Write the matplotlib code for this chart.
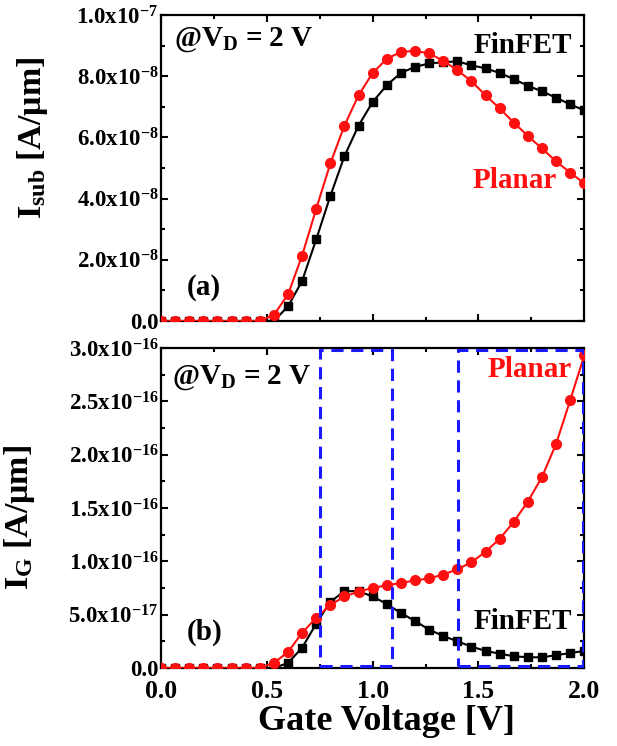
import numpy as np
import matplotlib
matplotlib.use("Agg")
import matplotlib.pyplot as plt
from matplotlib.ticker import MultipleLocator, FuncFormatter
from matplotlib.patches import Rectangle

plt.rcParams['font.family'] = ['Liberation Serif', 'DejaVu Serif']
plt.rcParams['font.weight'] = 'bold'
plt.rcParams['mathtext.fontset'] = 'custom'
plt.rcParams['mathtext.rm'] = 'Liberation Serif:bold'
plt.rcParams['mathtext.bf'] = 'Liberation Serif:bold'
plt.rcParams['mathtext.it'] = 'Liberation Serif:bold:italic'
plt.rcParams['mathtext.default'] = 'bf'

# Gate voltage sweep
vg = np.linspace(0.0, 2.0, 31)

# (a) substrate current [A/um]
isub_planar = np.array([0, 0, 0, 0, 0, 0, 0, 0, 0.02, 0.087, 0.214, 0.367, 0.515, 0.639,
                        0.738, 0.811, 0.857, 0.880, 0.883, 0.875, 0.851, 0.820, 0.784,
                        0.738, 0.695, 0.649, 0.605, 0.564, 0.522, 0.485, 0.450]) * 1e-7
isub_finfet = np.array([0, 0, 0, 0, 0, 0, 0, 0, 0.0, 0.048, 0.131, 0.267, 0.409, 0.539,
                        0.639, 0.716, 0.771, 0.811, 0.831, 0.842, 0.846, 0.849, 0.836,
                        0.826, 0.811, 0.791, 0.769, 0.751, 0.730, 0.708, 0.689]) * 1e-7

# (b) gate current [A/um]
ig_planar = np.array([0, 0, 0, 0, 0, 0, 0, 0, 0.047, 0.15, 0.33, 0.47, 0.59, 0.67,
                      0.716, 0.75, 0.775, 0.797, 0.82, 0.84, 0.875, 0.925, 0.99,
                      1.09, 1.21, 1.37, 1.56, 1.79, 2.10, 2.51, 2.93]) * 1e-16
ig_finfet = np.array([0, 0, 0, 0, 0, 0, 0, 0, 0.0, 0.047, 0.19, 0.415, 0.62, 0.72,
                      0.72, 0.67, 0.60, 0.515, 0.44, 0.36, 0.30, 0.25, 0.20,
                      0.16, 0.134, 0.11, 0.10, 0.10, 0.12, 0.14, 0.16]) * 1e-16

# highlighted regions in (b): (x0, x1)
regions = [(0.75, 1.09), (1.405, 1.995)]

RED = '#ff1010'
BLUE = '#1a1aff'

fig = plt.figure(figsize=(6.17, 7.46), dpi=100)
ax1 = fig.add_axes([0.261, 0.5697, 0.686, 0.410])
ax2 = fig.add_axes([0.261, 0.1046, 0.686, 0.429])


def sci_fmt(v, pos):
    if abs(v) < 1e-30:
        return '0.0'
    e = int(np.floor(np.log10(abs(v)) + 1e-9))
    m = v / 10 ** e
    return r'%.1fx10$^{%d}$' % (m, e)


for ax in (ax1, ax2):
    ax.set_xlim(0, 2.0)
    ax.xaxis.set_major_locator(MultipleLocator(0.5))
    ax.xaxis.set_minor_locator(MultipleLocator(0.25))
    ax.tick_params(which='both', direction='in', top=True, right=True, width=1.5)
    ax.tick_params(which='major', length=5)
    ax.tick_params(axis='y', which='major', labelsize=16.5, pad=2)
    ax.tick_params(axis='x', which='major', labelsize=18.5, pad=9)
    ax.tick_params(which='minor', length=3)
    for s in ax.spines.values():
        s.set_linewidth(1.6)
    ax.yaxis.set_major_formatter(FuncFormatter(sci_fmt))

# panel (a)
ax1.plot(vg, isub_finfet, '-s', color='black', lw=1.5, ms=6, zorder=3)
ax1.plot(vg, isub_planar, '-o', color=RED, lw=1.5, ms=7, zorder=4)
ax1.set_ylim(0, 1.0e-7)
ax1.yaxis.set_major_locator(MultipleLocator(2e-8))
ax1.yaxis.set_minor_locator(MultipleLocator(1e-8))
ax1.tick_params(axis='x', labelbottom=False)
ax1.set_ylabel('I$_{sub}$ [A/μm]', fontsize=24.5, fontweight='bold')
ax1.yaxis.set_label_coords(-0.262, 0.6)
ax1.text(0.06, 0.92e-7, '@V$_{D}$ = 2 V', fontsize=21, fontweight='bold', va='center')
ax1.text(1.71, 0.90e-7, 'FinFET', fontsize=21, fontweight='bold', ha='center', va='center')
ax1.text(1.67, 0.46e-7, 'Planar', fontsize=21, fontweight='bold', ha='center', va='center', color=RED)
ax1.text(0.12, 0.11e-7, '(a)', fontsize=21, fontweight='bold', va='center')

# panel (b)
ax2.plot(vg, ig_finfet, '-s', color='black', lw=1.5, ms=6, zorder=3)
ax2.plot(vg, ig_planar, '-o', color=RED, lw=1.5, ms=7, zorder=4)
ax2.set_ylim(0, 3.0e-16)
ax2.yaxis.set_major_locator(MultipleLocator(5e-17))
ax2.yaxis.set_minor_locator(MultipleLocator(2.5e-17))
ax2.set_ylabel('I$_{G}$ [A/μm]', fontsize=24.5, fontweight='bold')
ax2.yaxis.set_label_coords(-0.292, 0.47)
ax2.set_xlabel('Gate Voltage [V]', fontsize=26, fontweight='bold', labelpad=0)
ax2.xaxis.set_label_coords(0.533, -0.115)
ax2.text(0.05, 2.72e-16, '@V$_{D}$ = 2 V', fontsize=21, fontweight='bold', va='center')
ax2.text(1.74, 2.8e-16, 'Planar', fontsize=21, fontweight='bold', ha='center', va='center', color=RED)
ax2.text(1.71, 0.44e-16, 'FinFET', fontsize=21, fontweight='bold', ha='center', va='center')
ax2.text(0.12, 0.33e-16, '(b)', fontsize=21, fontweight='bold', va='center')
for x0, x1 in regions:
    ax2.add_patch(Rectangle((x0, 0.02e-16), x1 - x0, 2.96e-16, fill=False,
                            edgecolor=BLUE, lw=2.2, ls=(0, (4, 2.5)), zorder=5))

fig.savefig('out.png', dpi=100)
